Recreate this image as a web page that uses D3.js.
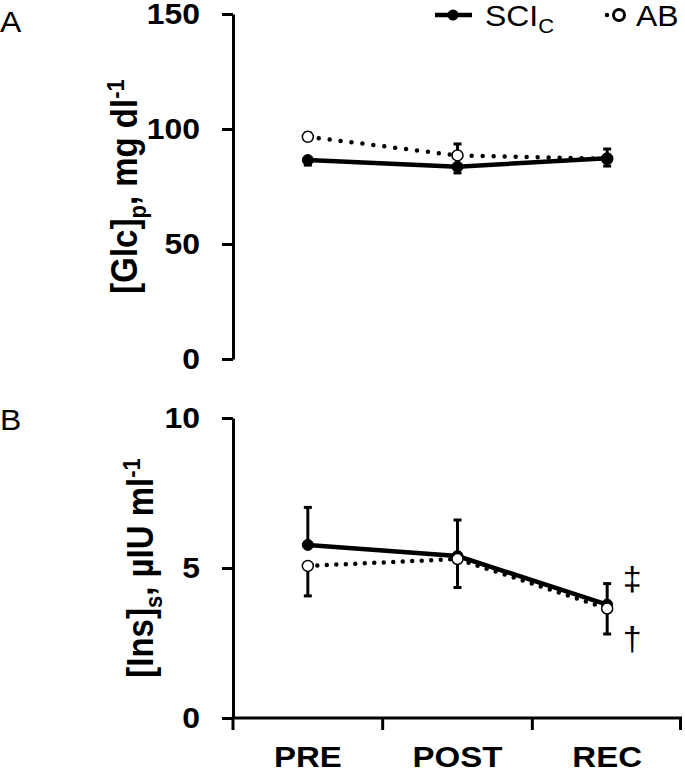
<!DOCTYPE html>
<html>
<head>
<meta charset="utf-8">
<script src="https://cdn.jsdelivr.net/npm/d3@7"></script>
<style>
html,body{margin:0;padding:0;background:#fff;}
svg{display:block;font-family:"Liberation Sans",Arial,sans-serif;}
</style>
</head>
<body>
<svg id="chart" width="685" height="773"></svg>
<script>
// ---- data ----
const categories = ["PRE", "POST", "REC"];
// Panel A: plasma glucose, mg/dl
const glcSCI = [86.5, 83.6, 87.3];
const glcSCIErr = [2.2, 2.7, 3.4];     // drawn downward
const glcAB = [96.6, 88.5, 87.0];
const glcABErr = [1.6, 5.0, 4.3];      // drawn upward
const glcTicks = [0, 50, 100, 150];
// Panel B: serum insulin, µIU/ml
const insSCI = [5.77, 5.40, 3.78];
const insSCIErr = [1.25, 1.2, 0.7];    // drawn upward
const insAB = [5.07, 5.30, 3.65];
const insABErr = [1.0, 0.95, 0.85];    // drawn downward
const insTicks = [0, 5, 10];
const seriesNames = ["SCI", "AB"];

// ---- layout ----
const svg = d3.select("#chart");
const SX = 1.1; // horizontal glyph stretch of the reference
const x = d3.scaleBand().domain(categories).range([233, 682]).padding(0);
const cx = d => x(d) + x.bandwidth() / 2;

function drawPanel(cfg) {
  const y = d3.scaleLinear().domain(cfg.domain).range(cfg.range);
  const g = svg.append("g");
  // y axis
  const ax = g.append("g").attr("transform", "translate(233,0)")
    .call(d3.axisLeft(y).tickValues(cfg.ticks).tickSize(11).tickSizeOuter(0).tickPadding(19));
  ax.select(".domain").attr("stroke", "#000").attr("stroke-width", 3);
  ax.selectAll(".tick line").attr("stroke", "#000").attr("stroke-width", 3);
  ax.selectAll(".tick text")
    .attr("font-family", "Liberation Sans, Arial, sans-serif")
    .attr("font-size", 29).attr("font-weight", "bold").attr("fill", "#000")
    .attr("dy", "0.34em")
    .attr("transform", `scale(${SX},1)`);
  // y label
  const lab = g.append("text")
    .attr("transform", `translate(${cfg.labelX},${(cfg.range[0] + cfg.range[1]) / 2}) scale(${SX},1) rotate(-90)`)
    .attr("text-anchor", "middle").attr("font-size", 33).attr("font-weight", "bold").attr("fill", "#000");
  lab.append("tspan").text(cfg.labelMain);
  lab.append("tspan").attr("font-size", 22).attr("dy", 8).text(cfg.labelSub);
  lab.append("tspan").attr("dy", -8).text(cfg.labelUnit);
  lab.append("tspan").attr("font-size", 22).attr("dy", -12).text("-1");
  // panel letter
  g.append("text").attr("transform", `translate(0,${cfg.letterY}) scale(${SX},1)`)
    .attr("font-size", 29).attr("fill", "#000").text(cfg.letter);

  const lineGen = d3.line().x((d, i) => cx(categories[i])).y(d => y(d));
  const sci = {vals: cfg.sci, err: cfg.sciErr, dir: cfg.sciDir, filled: true};
  const ab = {vals: cfg.ab, err: cfg.abErr, dir: cfg.abDir, filled: false};
  const order = cfg.abFirst ? [ab, sci] : [sci, ab];

  // error bars
  [sci, ab].forEach(s => {
    s.vals.forEach((v, i) => {
      const px = cx(categories[i]);
      const y0 = y(v), y1 = y(v + s.dir * s.err[i]);
      g.append("line").attr("x1", px).attr("x2", px).attr("y1", y0).attr("y2", y1)
        .attr("stroke", "#000").attr("stroke-width", 3);
      g.append("line").attr("x1", px - 4).attr("x2", px + 4).attr("y1", y1).attr("y2", y1)
        .attr("stroke", "#000").attr("stroke-width", 3);
    });
  });
  order.forEach(s => {
    g.append("path").datum(s.vals).attr("d", lineGen).attr("fill", "none")
      .attr("stroke", "#000")
      .attr("stroke-width", 4.5)
      .attr("stroke-dasharray", s.filled ? null : cfg.dots)
      .attr("stroke-linecap", s.filled ? "butt" : "round");
    g.selectAll(null).data(s.vals).enter().append("circle")
      .attr("cx", (d, i) => cx(categories[i])).attr("cy", d => y(d))
      .attr("r", 5.5)
      .attr("fill", s.filled ? "#000" : "#fff")
      .attr("stroke", "#000").attr("stroke-width", s.filled ? 1 : 1.5);
  });
  return {g, y};
}

const A = drawPanel({
  domain: [0, 150], range: [359, 14], ticks: glcTicks,
  sci: glcSCI, sciErr: glcSCIErr, sciDir: -1,
  ab: glcAB, abErr: glcABErr, abDir: 1, abFirst: true, dots: "0 11",
  labelX: 137, labelMain: "[Glc]", labelSub: "p", labelUnit: ", mg dl",
  letter: "A", letterY: 32
});
const B = drawPanel({
  domain: [0, 10], range: [718, 418], ticks: insTicks,
  sci: insSCI, sciErr: insSCIErr, sciDir: 1,
  ab: insAB, abErr: insABErr, abDir: -1, abFirst: false, dots: "0 9.5",
  labelX: 153, labelMain: "[Ins]", labelSub: "s", labelUnit: ", \u00B5IU ml",
  letter: "B", letterY: 430
});

// x axis for panel B
const xa = svg.append("g");
const [x0, x1] = x.range();
xa.append("line").attr("x1", x0 - 1.5).attr("x2", x1).attr("y1", 718).attr("y2", 718)
  .attr("stroke", "#000").attr("stroke-width", 3);
categories.map(c => x(c)).concat([x1 - 1.5]).forEach(px => {
  xa.append("line").attr("x1", px).attr("x2", px).attr("y1", 718).attr("y2", 730)
    .attr("stroke", "#000").attr("stroke-width", 3);
});
categories.forEach(c => {
  xa.append("text").attr("transform", `translate(${cx(c)},767) scale(${SX},1)`)
    .attr("text-anchor", "middle").attr("font-size", 30).attr("font-weight", "bold")
    .attr("fill", "#000").text(c);
});

// significance marks at REC
const recX = cx("REC");
svg.append("text").attr("x", recX + 25).attr("y", 590).attr("text-anchor", "middle")
  .attr("font-size", 34).attr("fill", "#000").text("\u2021");
svg.append("text").attr("x", recX + 25).attr("y", 650).attr("text-anchor", "middle")
  .attr("font-size", 34).attr("fill", "#000").text("\u2020");

// legend
const lg = svg.append("g");
lg.append("line").attr("x1", 435).attr("x2", 472).attr("y1", 15).attr("y2", 15)
  .attr("stroke", "#000").attr("stroke-width", 4.5);
lg.append("circle").attr("cx", 453).attr("cy", 15).attr("r", 5.5).attr("fill", "#000");
const t1 = lg.append("text").attr("transform", `translate(485,26) scale(${SX},1)`)
  .attr("font-size", 29).attr("fill", "#000");
t1.append("tspan").text(seriesNames[0]);
t1.append("tspan").attr("font-size", 20).attr("dy", 7).text("C");
lg.append("line").attr("x1", 607).attr("x2", 629).attr("y1", 15).attr("y2", 15)
  .attr("stroke", "#000").attr("stroke-width", 4.5).attr("stroke-dasharray", "0 11")
  .attr("stroke-linecap", "round");
lg.append("circle").attr("cx", 619).attr("cy", 15).attr("r", 5.5).attr("fill", "#fff")
  .attr("stroke", "#000").attr("stroke-width", 3);
lg.append("text").attr("transform", `translate(636,26) scale(${SX},1)`)
  .attr("font-size", 29).attr("fill", "#000").text(seriesNames[1]);
</script>
</body>
</html>
